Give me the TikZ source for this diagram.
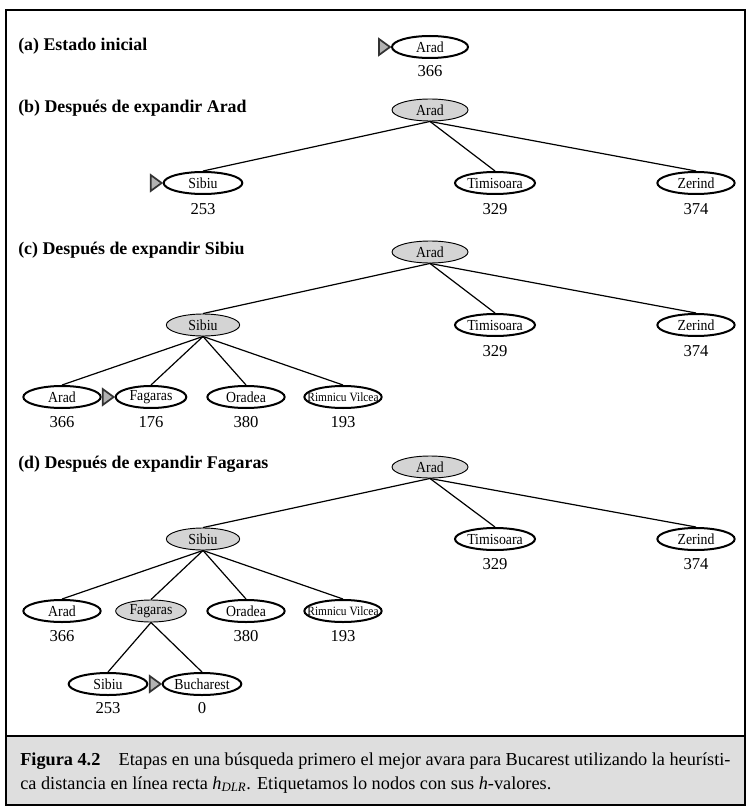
\documentclass[tikz,border=0pt]{standalone}
\usepackage{fontspec}
\setmainfont{Liberation Serif}
\usetikzlibrary{shapes.geometric,calc}
\definecolor{expgray}{RGB}{212,212,212}
\definecolor{capgray}{RGB}{222,222,222}
\newcommand\ntx[1]{\makebox[0pt]{\scalebox{0.9}[1]{#1}}}
\newcommand\smk[1]{\draw[mk] ($(#1.west)+(-12,-8)$) -- ($(#1.west)+(-1,0)$) -- ($(#1.west)+(-12,8)$) -- cycle;}
\begin{document}
\begin{tikzpicture}[x=0.75pt,y=-0.75pt,
 lab/.style={font=\fontsize{12.5}{14}\selectfont, inner sep=0},
 head/.style={font=\fontsize{13.4}{15}\selectfont\bfseries, anchor=west, inner sep=0},
 tn/.style={ellipse, draw, inner sep=0, minimum height=16.5pt, minimum width=#1, font=\fontsize{11.5}{13}\selectfont},
 fr/.style={tn=#1, line width=1.5pt},
 ex/.style={tn=#1, line width=0.7pt, fill=expgray},
 edge/.style={line width=0.9pt},
 mk/.style={draw=black!80, fill=gray!60, line width=1.3pt, line join=miter}
]
\useasboundingbox (0,0) rectangle (752,809);
% frame and caption
\fill[capgray] (6,737) rectangle (745,805);
\draw[line width=0.8pt] (6,10) rectangle (745,805);
\draw[line width=2pt] (6,736) -- (745,736);
\node[anchor=base west, inner sep=0, font=\fontsize{13.7}{16}\selectfont] (cap1) at (20,765) {\textbf{Figura 4.2}\quad Etapas en una búsqueda primero el mejor avara para Bucarest utilizando la heurísti-};
\node[anchor=base west, inner sep=0, font=\fontsize{13.7}{16}\selectfont] (cap2) at (20,789) {ca distancia en línea recta \textit{h}\textsubscript{\textit{DLR}}. Etiquetamos lo nodos con sus \textit{h}-valores.};

% (a)
\node[head] (ha) at (18,46) {(a) Estado inicial};
\node[fr=57pt] (a0) at (430,47) {\ntx{Arad}};
\node[lab] (a0v) at (430,71) {366};
\smk{a0}

% (b)
\node[head] (hb) at (18,108) {(b) Después de expandir Arad};
\node[ex=57pt] (b0) at (430,110) {\ntx{Arad}};
\node[fr=59pt] (b1) at (203,183) {\ntx{Sibiu}};
\node[fr=60pt] (b2) at (495,183) {\ntx{Timisoara}};
\node[fr=58pt] (b3) at (696,183) {\ntx{Zerind}};
\node[lab] (b1v) at (203,209) {253};
\node[lab] (b2v) at (495,209) {329};
\node[lab] (b3v) at (696,209) {374};
\smk{b1}
\foreach \c in {b1,b2,b3} \draw[edge] (b0.south) -- (\c.north);

% (c)
\node[head] (hc) at (18,250) {(c) Después de expandir Sibiu};
\node[ex=57pt] (c0) at (430,252) {\ntx{Arad}};
\node[ex=55pt] (c1) at (203,325) {\ntx{Sibiu}};
\node[fr=60pt] (c2) at (495,325) {\ntx{Timisoara}};
\node[fr=58pt] (c3) at (696,325) {\ntx{Zerind}};
\node[lab] (c2v) at (495,351) {329};
\node[lab] (c3v) at (696,351) {374};
\node[fr=58pt] (c4) at (62,397) {\ntx{Arad}};
\node[fr=53pt] (c5) at (151,397) {\ntx{Fagaras}};
\node[fr=58pt] (c6) at (246,397) {\ntx{Oradea}};
\node[fr=58pt] (c7) at (343,397) {\ntx{\fontsize{9.5}{10}\selectfont Rimnicu Vilcea}};
\node[lab] (c4v) at (62,422) {366};
\node[lab] (c5v) at (151,422) {176};
\node[lab] (c6v) at (246,422) {380};
\node[lab] (c7v) at (343,422) {193};
\smk{c5}
\foreach \c in {c1,c2,c3} \draw[edge] (c0.south) -- (\c.north);
\foreach \c in {c4,c5,c6,c7} \draw[edge] (c1.south) -- (\c.north);

% (d)
\node[head] (hd) at (18,464) {(d) Después de expandir Fagaras};
\node[ex=57pt] (d0) at (430,467) {\ntx{Arad}};
\node[ex=55pt] (d1) at (203,539) {\ntx{Sibiu}};
\node[fr=60pt] (d2) at (495,539) {\ntx{Timisoara}};
\node[fr=58pt] (d3) at (696,539) {\ntx{Zerind}};
\node[lab] (d2v) at (495,564) {329};
\node[lab] (d3v) at (696,564) {374};
\node[fr=58pt] (d4) at (62,611) {\ntx{Arad}};
\node[ex=53pt] (d5) at (151,611) {\ntx{Fagaras}};
\node[fr=58pt] (d6) at (246,611) {\ntx{Oradea}};
\node[fr=58pt] (d7) at (343,611) {\ntx{\fontsize{9.5}{10}\selectfont Rimnicu Vilcea}};
\node[lab] (d4v) at (62,636) {366};
\node[lab] (d6v) at (246,636) {380};
\node[lab] (d7v) at (343,636) {193};
\node[fr=59pt] (d8) at (108,684) {\ntx{Sibiu}};
\node[fr=59pt] (d9) at (202,684) {\ntx{Bucharest}};
\node[lab] (d8v) at (108,708) {253};
\node[lab] (d9v) at (202,708) {0};
\smk{d9}
\foreach \c in {d1,d2,d3} \draw[edge] (d0.south) -- (\c.north);
\foreach \c in {d4,d5,d6,d7} \draw[edge] (d1.south) -- (\c.north);
\foreach \c in {d8,d9} \draw[edge] (d5.south) -- (\c.north);
\end{tikzpicture}
\end{document}
